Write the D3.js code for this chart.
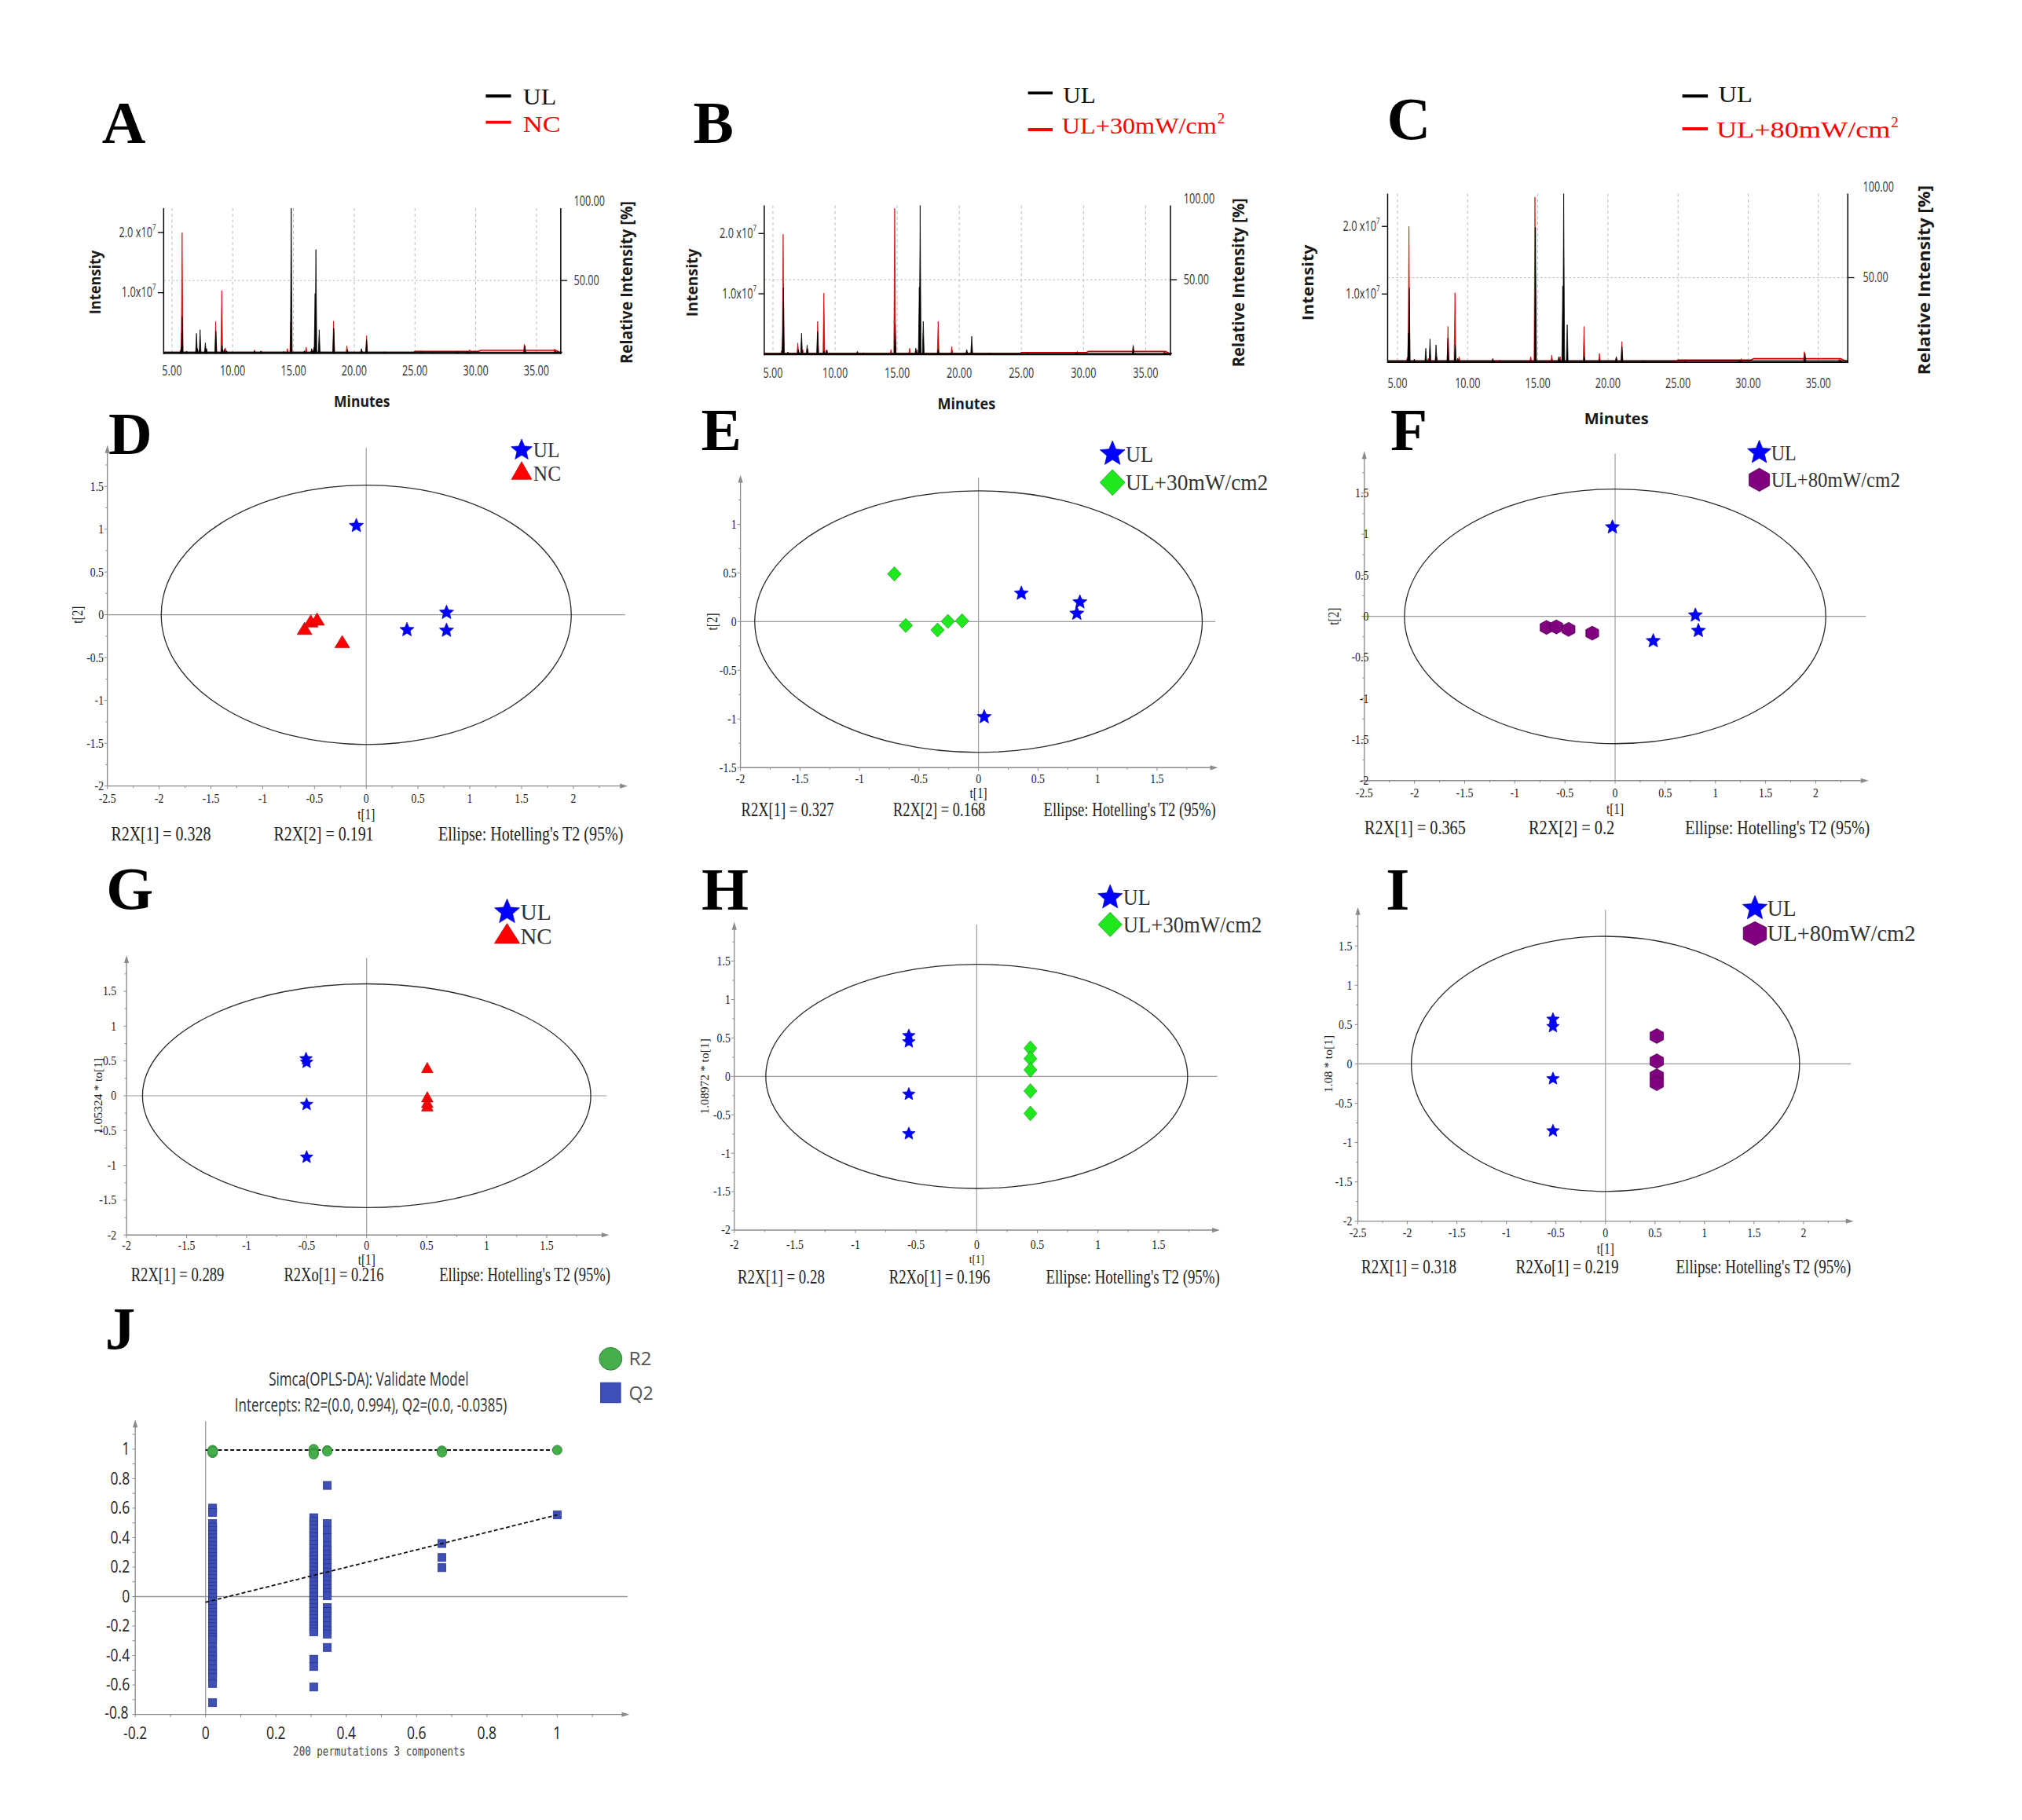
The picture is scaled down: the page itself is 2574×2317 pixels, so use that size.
<!DOCTYPE html>
<html><head><meta charset="utf-8">
<script src="https://cdn.jsdelivr.net/npm/d3@7"></script>
<style>html,body{margin:0;padding:0;background:#fff;} svg{display:block;}</style>
</head><body>
<svg id="fig" width="2574" height="2317" viewBox="0 0 1568 1411.5"></svg>
<script>
// ---------------- DATA ----------------
const chromMinutes = [5, 10, 15, 20, 25, 30, 35];
const chromMinuteLabels = ["5.00","10.00","15.00","20.00","25.00","30.00","35.00"];
const leftIntensityTicks = [1e7, 2e7];
const leftIntensityLabels = ["1.0x10", "2.0 x10"];
const rightRelTicks = [50, 100];
const rightRelLabels = ["50.00", "100.00"];

// chromatogram peaks: [retention time (min), relative intensity (%)]
const peaksA_UL = [[5.78,4],[5.84,25],[6.2,1.2],[7.02,13.5],[7.1,3],[7.32,16],[7.75,7],[7.85,3],[8.62,15],[9.12,5],[9.3,2.5],[9.5,1.5],[11.8,1.2],[12.4,1],[14.2,1],[14.82,100],[15.9,1.5],[16.5,3],[16.7,4],[16.78,41],[16.85,71.4],[17.12,16],[18.32,17],[19.45,2],[20.6,3],[21.02,9],[22.5,0.8],[28.5,1],[29.3,1],[34.05,5],[36.6,1.2]];
const peaksA_NC = [[5.7,2],[5.8,14],[5.84,83],[7.25,2],[7.8,3],[8.6,21.7],[9.1,43],[9.4,3.5],[11.8,2],[12.3,1.5],[14.5,3],[14.78,21.7],[16.05,4],[16.6,2],[18.3,22],[19.4,5],[20.6,2],[21.02,12],[25.5,1.5],[26.5,1.2],[29.5,2.2],[34.0,6],[36.5,2.8]];
const peaksB_UL = [[5.8,16],[5.84,44.5],[6.2,1.5],[7.05,3],[7.3,14],[7.75,6],[8.6,15],[9.1,2],[9.3,2.5],[11.8,1.5],[14.84,20],[16.5,4],[16.78,45],[16.85,100],[17.1,22],[18.3,3],[19.4,1],[20.6,3],[21.0,12],[22.5,0.8],[29.4,1],[34.0,5.5],[36.6,1]];
const peaksB_30 = [[5.7,2.5],[5.82,80.6],[7.0,7.5],[7.4,3],[7.8,3.5],[8.6,22],[9.1,41],[9.35,3],[11.8,2],[12.3,1],[14.5,3],[14.8,98],[16.0,4],[16.6,3],[18.3,22],[19.4,5],[20.6,2.5],[21.0,6],[25.5,1.2],[29.5,1.8],[34.0,6],[36.5,2]];
const peaksC_UL = [[5.78,17],[5.84,44],[6.2,1.5],[7.02,8],[7.32,13.5],[7.75,10],[8.6,14],[9.12,10],[9.3,2],[11.8,1.5],[14.84,80],[16.5,3],[16.78,45],[16.85,100],[17.1,22],[18.32,3],[19.4,1],[20.6,3],[21.0,9],[22.5,0.8],[29.4,1],[34.05,5],[36.6,1]];
const peaksC_80 = [[5.7,2.5],[5.82,80.5],[7.2,2],[7.8,3],[8.6,21],[9.1,41],[9.4,3],[11.8,2],[12.3,1],[14.5,3],[14.8,98],[16.0,4],[16.6,3],[18.3,21],[19.4,5],[20.6,2.5],[21.0,12],[25.5,1.2],[29.5,1.8],[34.0,6],[36.5,2]];
const baseBlack = [[4.3,0.4],[37.1,0.4]];
const baseRed = [[4.3,0.4],[24.9,0.4],[25.0,1.0],[30.2,1.0],[30.4,1.8],[36.6,1.8],[36.9,0.5],[37.1,0.4]];

// score plots: [t[1], t[2] or scaled to[1]]
const ulD = [[-0.096,1.04],[0.393,-0.176],[0.775,0.026],[0.775,-0.183]];
const ncD = [[-0.596,-0.183],[-0.536,-0.096],[-0.475,-0.074],[-0.232,-0.337]];
const ulE = [[0.36,0.29],[0.852,0.2],[0.826,0.083],[0.048,-0.979]];
const g30E = [[-0.707,0.49],[-0.611,-0.04],[-0.344,-0.086],[-0.257,0.003],[-0.138,0.008]];
const ulF = [[-0.027,1.086],[0.38,-0.30],[0.8,0.013],[0.83,-0.175]];
const p80F = [[-0.684,-0.135],[-0.586,-0.129],[-0.464,-0.158],[-0.228,-0.205]];
const ulG = [[-0.505,0.53],[-0.5,0.48],[-0.5,-0.125],[-0.5,-0.883]];
const ncG = [[0.505,0.38],[0.505,-0.04],[0.505,-0.12],[0.505,-0.17]];
const ulH = [[-0.56,0.53],[-0.56,0.45],[-0.56,-0.232],[-0.56,-0.746]];
const g30H = [[0.443,0.366],[0.443,0.232],[0.443,0.085],[0.443,-0.19],[0.443,-0.482]];
const ulI = [[-0.53,0.567],[-0.53,0.474],[-0.53,-0.189],[-0.53,-0.852]];
const p80I = [[0.518,0.354],[0.518,0.034],[0.518,-0.155],[0.518,-0.247]];

const ticksWide = [-2.5,-2,-1.5,-1,-0.5,0,0.5,1,1.5,2];
const ticksNarrow = [-2,-1.5,-1,-0.5,0,0.5,1,1.5];
const ticksYE = [-1.5,-1,-0.5,0,0.5,1];

// permutation test (J)
const r2Perm = [[0.02,0.994],[0.02,0.975],[0.02,0.985],[0.3075,1.0],[0.3075,0.975],[0.3075,0.965],[0.346,0.992],[0.346,0.985],[0.672,0.99],[0.672,0.978],[1.0,0.994]];
const q2Col002 = [0.60,0.57,0.495,0.472,0.448,0.421,0.398,0.372,0.345,0.322,0.297,0.271,0.248,0.22,0.196,0.171,0.146,0.122,0.095,0.071,0.047,0.02,-0.006,-0.03,-0.054,-0.081,-0.106,-0.13,-0.155,-0.181,-0.205,-0.23,-0.256,-0.276,-0.294,-0.34,-0.37,-0.402,-0.428,-0.461,-0.49,-0.522,-0.55,-0.59,-0.72];
const q2Col031 = [0.535,0.51,0.486,0.46,0.432,0.405,0.381,0.352,0.326,0.3,0.274,0.25,0.226,0.2,0.176,0.151,0.125,0.099,0.076,0.05,0.026,0.001,-0.025,-0.049,-0.076,-0.1,-0.126,-0.151,-0.175,-0.2,-0.221,-0.24,-0.425,-0.475,-0.614];
const q2Col035 = [0.754,0.495,0.45,0.40,0.345,0.316,0.286,0.255,0.226,0.196,0.166,0.14,0.11,0.081,0.051,0.026,0.005,-0.075,-0.101,-0.134,-0.166,-0.199,-0.23,-0.255,-0.345];
const q2Col067 = [0.36,0.265,0.196];
const q2Col100 = [0.554];
const q2Columns = [[0.02,q2Col002],[0.3075,q2Col031],[0.346,q2Col035],[0.672,q2Col067],[1.0,q2Col100]];
const r2Line = [[0,0.994],[1,0.994]];
const q2Line = [[0,-0.0385],[1,0.554]];
const permYTicks = [-0.8,-0.6,-0.4,-0.2,0,0.2,0.4,0.6,0.8,1];
const permXTicks = [-0.2,0,0.2,0.4,0.6,0.8,1];

// ---------------- DRAWING ----------------
const svg = d3.select("#fig");
svg.append("rect").attr("width",1568).attr("height",1411.5).attr("fill","#fff");
const SERIF = "'Liberation Serif','Times New Roman',serif";
const SANS = "'Open Sans','Noto Sans','DejaVu Sans',sans-serif";

function text(g, o) {
  const t = g.append("text")
    .attr("font-family", o.family || SERIF)
    .attr("font-size", o.size || 12)
    .attr("font-weight", o.weight || "normal")
    .attr("fill", o.fill || "#222")
    .attr("text-anchor", o.anchor || "start")
    .text(o.text);
  if (o.rot) t.attr("transform", `translate(${o.x},${o.y}) rotate(${o.rot})`).attr("x",0).attr("y",0);
  else t.attr("x", o.x).attr("y", o.y);
  if (o.dy) t.attr("dy", o.dy);
  if (o.width) t.attr("textLength", o.width).attr("lengthAdjust", "spacingAndGlyphs");
  else if (o.squeeze) {
    const L = t.node().getComputedTextLength();
    t.attr("textLength", L * o.squeeze).attr("lengthAdjust", "spacingAndGlyphs");
  }
  return t;
}

function letter(ch, x, y) {
  text(svg, {text: ch, x, y, size: 47, weight: "bold", fill: "#000"});
}

// ---- chromatograms ----
function chromPanel(c) {
  const g = svg.append("g");
  const x = d3.scaleLinear().domain([5, 35]).range([c.x5, c.x35]);
  const y = d3.scaleLinear().domain([0, 100]).range([c.base, c.top]);
  const yI = d3.scaleLinear().domain([0, c.fullScale]).range([c.base, c.top]);
  const xL = x(c.tMin), xR = x(c.tMax);
  g.selectAll(null).data(chromMinutes).join("line")
    .attr("x1", d => x(d)).attr("x2", d => x(d)).attr("y1", c.top).attr("y2", c.base)
    .attr("stroke", "#b8b8b8").attr("stroke-width", 0.6).attr("stroke-dasharray", "2.2,2.2");
  g.append("line").attr("x1", xL).attr("x2", xR).attr("y1", y(50)).attr("y2", y(50))
    .attr("stroke", "#b8b8b8").attr("stroke-width", 0.6).attr("stroke-dasharray", "1.6,1.6");
  const line = d3.line().x(d => x(d[0])).y(d => y(d[1]));
  function series(peaks, base, col) {
    g.selectAll(null).data(peaks).join("path")
      .attr("d", d => { const px = x(d[0]); return `M${px-0.7},${y(0)}L${px},${y(d[1])}L${px+0.7},${y(0)}Z`; })
      .attr("fill", col).attr("stroke", col).attr("stroke-width", 0.45);
    g.append("path").attr("d", line(base)).attr("fill", "none").attr("stroke", col).attr("stroke-width", 1.0);
  }
  series(c.red, baseRed, "#d20000");
  series(c.black, baseBlack, "#000");
  // axes
  g.append("line").attr("x1", xL).attr("x2", xL).attr("y1", c.top).attr("y2", c.base + 1).attr("stroke", "#000").attr("stroke-width", 0.9);
  g.append("line").attr("x1", xR).attr("x2", xR).attr("y1", c.top).attr("y2", c.base + 1).attr("stroke", "#000").attr("stroke-width", 0.9);
  g.append("line").attr("x1", xL).attr("x2", xR).attr("y1", c.base + 0.5).attr("y2", c.base + 0.5).attr("stroke", "#000").attr("stroke-width", 0.9);
  leftIntensityTicks.forEach((v, i) => {
    g.append("line").attr("x1", xL - 4.5).attr("x2", xL).attr("y1", yI(v)).attr("y2", yI(v)).attr("stroke", "#000").attr("stroke-width", 0.8);
    const tg = g.append("g").attr("transform", `translate(${xL - 6},${yI(v) + 3.5}) scale(0.74,1)`);
    const t = tg.append("text").attr("font-family", SANS).attr("font-size", 10.5).attr("fill", "#333").attr("text-anchor", "end").text(leftIntensityLabels[i]);
    t.append("tspan").attr("font-size", 6.5).attr("dy", -5.5).text("7");
  });
  g.append("line").attr("x1", xR).attr("x2", xR + 5).attr("y1", y(50)).attr("y2", y(50)).attr("stroke", "#000").attr("stroke-width", 0.8);
  rightRelTicks.forEach((v, i) => {
    text(g, {text: rightRelLabels[i], x: c.rLabX, y: y(v) + (v === 100 ? -1.5 : 3.5), size: 11, family: SANS, fill: "#333", squeeze: 0.7});
  });
  chromMinutes.forEach((v, i) => {
    text(g, {text: chromMinuteLabels[i], x: x(v), y: c.tickY, size: 11, family: SANS, fill: "#333", anchor: "middle", squeeze: 0.7});
  });
  text(g, {text: "Intensity", x: c.intensity[0], y: c.intensity[1], rot: -90, anchor: "middle", size: 12, weight: "bold", family: SANS, fill: "#1a1a1a", width: c.intensity[2], dy: "0.35em"});
  text(g, {text: "Relative Intensity [%]", x: c.rel[0], y: c.rel[1], rot: -90, anchor: "middle", size: 12.5, weight: "bold", family: SANS, fill: "#1a1a1a", width: c.rel[2], dy: "0.35em"});
  text(g, {text: "Minutes", x: c.minutes[0], y: c.minutes[1], anchor: "middle", size: 12, weight: "bold", family: SANS, fill: "#1a1a1a", width: c.minutes[2]});
  // legend
  const L = c.legend;
  g.append("line").attr("x1", L.lx1).attr("x2", L.lx2).attr("y1", L.y1).attr("y2", L.y1).attr("stroke", "#000").attr("stroke-width", 2.4);
  g.append("line").attr("x1", L.lx1).attr("x2", L.lx2).attr("y1", L.y2).attr("y2", L.y2).attr("stroke", "#ff0000").attr("stroke-width", 2.4);
  text(g, {text: "UL", x: L.tx, y: L.ty1, size: 18.5, fill: "#111", width: L.w1});
  text(g, {text: L.label2, x: L.tx2, y: L.ty2, size: 18.5, fill: "#ff0000", width: L.w2});
  if (L.sup) text(g, {text: "2", x: L.tx2 + L.w2 + 0.5, y: L.ty2 - 8, size: 11.5, fill: "#ff0000"});
  letter(c.letter[0], c.letter[1], c.letter[2]);
}

chromPanel({x5: 133.3, x35: 416.0, tMin: 4.32, tMax: 37.0, base: 273.7, top: 161.4, fullScale: 2.405e7,
  red: peaksA_NC, black: peaksA_UL, rLabX: 445, tickY: 291.2,
  intensity: [73.5, 219, 49.7], rel: [486, 219, 126], minutes: [280.7, 315.5, 43.5],
  legend: {lx1: 376.7, lx2: 396.3, y1: 74.5, y2: 94.8, tx: 405.6, ty1: 81.2, tx2: 405.6, ty2: 102.5, w1: 25.8, label2: "NC", w2: 29.2, sup: false},
  letter: ["A", 79, 111]});
chromPanel({x5: 599.4, x35: 888.4, tMin: 4.30, tMax: 37.0, base: 274.6, top: 159.3, fullScale: 2.466e7,
  red: peaksB_30, black: peaksB_UL, rLabX: 917.9, tickY: 293,
  intensity: [536.7, 219.2, 52.8], rel: [960.5, 219.2, 131], minutes: [749.5, 317.5, 45],
  legend: {lx1: 797.2, lx2: 816.3, y1: 72.1, y2: 100.5, tx: 824.3, ty1: 79.6, tx2: 823.5, ty2: 103.5, w1: 25.3, label2: "UL+30mW/cm", w2: 120, sup: true},
  letter: ["B", 537.6, 110.6]});
chromPanel({x5: 1083.7, x35: 1410.1, tMin: 4.30, tMax: 37.1, base: 280.5, top: 150.2, fullScale: 2.484e7,
  red: peaksC_80, black: peaksC_UL, rLabX: 1444.7, tickY: 301.2,
  intensity: [1014.5, 219.2, 59], rel: [1492.6, 217.2, 147], minutes: [1253.5, 328.7, 50],
  legend: {lx1: 1304.6, lx2: 1324.4, y1: 74.5, y2: 99.9, tx: 1332.6, ty1: 79.2, tx2: 1331, ty2: 106.6, w1: 26.4, label2: "UL+80mW/cm", w2: 135, sup: true},
  letter: ["C", 1075.5, 107.6]});

// ---- marker shapes ----
function starPath(R) {
  const p = d3.path(), r = R * 0.45;
  for (let i = 0; i < 10; i++) {
    const a = -Math.PI / 2 + i * Math.PI / 5, rr = i % 2 ? r : R;
    const px = rr * Math.cos(a), py = rr * Math.sin(a);
    if (i) p.lineTo(px, py); else p.moveTo(px, py);
  }
  p.closePath(); return p.toString();
}
function triPath(w, h) {
  const p = d3.path();
  p.moveTo(0, -2 * h / 3); p.lineTo(w / 2, h / 3); p.lineTo(-w / 2, h / 3); p.closePath(); return p.toString();
}
function diaPath(w, h) {
  const p = d3.path();
  p.moveTo(0, -h / 2); p.lineTo(w / 2, 0); p.lineTo(0, h / 2); p.lineTo(-w / 2, 0); p.closePath(); return p.toString();
}
function hexPath(w, h) {
  const p = d3.path();
  p.moveTo(0, -h / 2); p.lineTo(w / 2, -h / 4); p.lineTo(w / 2, h / 4); p.lineTo(0, h / 2); p.lineTo(-w / 2, h / 4); p.lineTo(-w / 2, -h / 4); p.closePath(); return p.toString();
}
const STYLE = {
  star: {fill: "#0000ff", stroke: "#0000b0"},
  tri: {fill: "#ff0000", stroke: "#b00000"},
  dia: {fill: "#1fe81f", stroke: "#129012"},
  hex: {fill: "#800080", stroke: "#3d003d"}
};
function shape(kind, s) {
  if (kind === "star") return starPath(s[0]);
  if (kind === "tri") return triPath(s[0], s[1]);
  if (kind === "dia") return diaPath(s[0], s[1]);
  return hexPath(s[0], s[1]);
}

// ---- score plots ----
function scorePanel(c) {
  const g = svg.append("g");
  const x = d3.scaleLinear().domain([0, 1]).range([c.x0, c.x0 + c.xu]);
  const y = d3.scaleLinear().domain([0, 1]).range([c.y0, c.y0 - c.yu]);
  const ax = "#8a8a8a";
  const X0 = x(c.xMin), Y0 = y(c.yMin);
  // crosshair
  g.append("line").attr("x1", x(0)).attr("x2", x(0)).attr("y1", Y0).attr("y2", y(c.yEnd)).attr("stroke", "#999").attr("stroke-width", 0.7);
  g.append("line").attr("x1", X0).attr("x2", x(c.xEnd)).attr("y1", y(0)).attr("y2", y(0)).attr("stroke", "#999").attr("stroke-width", 0.7);
  // axes
  g.append("line").attr("x1", X0).attr("x2", X0).attr("y1", Y0).attr("y2", y(c.yEnd) + 3).attr("stroke", ax).attr("stroke-width", 0.8);
  g.append("line").attr("x1", X0).attr("x2", x(c.xEnd) - 3).attr("y1", Y0).attr("y2", Y0).attr("stroke", ax).attr("stroke-width", 0.8);
  g.append("path").attr("d", `M${X0},${y(c.yEnd) - 2}L${X0 - 1.9},${y(c.yEnd) + 4}L${X0 + 1.9},${y(c.yEnd) + 4}Z`).attr("fill", ax);
  g.append("path").attr("d", `M${x(c.xEnd) + 2},${Y0}L${x(c.xEnd) - 4},${Y0 - 1.9}L${x(c.xEnd) - 4},${Y0 + 1.9}Z`).attr("fill", ax);
  // ticks (major 0.5, minor 0.25)
  const xt = d3.range(c.xMin, c.xEnd - 0.05, 0.25);
  const yt = d3.range(c.yMin, c.yEnd - 0.05, 0.25);
  g.selectAll(null).data(xt).join("line")
    .attr("x1", d => x(d)).attr("x2", d => x(d)).attr("y1", Y0).attr("y2", d => Y0 + (Math.abs(d * 2 - Math.round(d * 2)) < 1e-6 ? 2.4 : 1.5))
    .attr("stroke", ax).attr("stroke-width", 0.6);
  g.selectAll(null).data(yt).join("line")
    .attr("y1", d => y(d)).attr("y2", d => y(d)).attr("x1", X0).attr("x2", d => X0 - (Math.abs(d * 2 - Math.round(d * 2)) < 1e-6 ? 2.4 : 1.5))
    .attr("stroke", ax).attr("stroke-width", 0.6);
  c.xTicks.forEach(v => text(g, {text: String(v), x: x(v), y: c.xlabY + 3.3, size: 10, anchor: "middle", fill: "#222", squeeze: 0.84}));
  c.yTicks.forEach(v => text(g, {text: String(v), x: c.ylabX, y: y(v) + 3.3, size: 10, anchor: "end", fill: "#222", squeeze: 0.84}));
  text(g, {text: "t[1]", x: x(0), y: c.t1Y + 3.6, size: c.t1Size || 11, anchor: "middle", fill: "#222", squeeze: 0.85});
  text(g, {text: c.ylab, x: c.t2X, y: y(0), rot: -90, size: c.ylab.length > 5 ? 9.5 : 11, anchor: "middle", fill: "#222", dy: "0.33em", squeeze: c.ylab.length > 5 ? 1 : 0.85});
  // ellipse
  g.append("ellipse").attr("cx", x(0)).attr("cy", y(0)).attr("rx", x(c.ell[0]) - x(0)).attr("ry", y(0) - y(c.ell[1]))
    .attr("fill", "none").attr("stroke", "#2a2a2a").attr("stroke-width", 0.8);
  // points
  c.groups.forEach(gr => {
    g.selectAll(null).data(gr.data).join("path")
      .attr("transform", d => `translate(${x(d[0])},${y(d[1])})`)
      .attr("d", shape(gr.kind, gr.size))
      .attr("fill", STYLE[gr.kind].fill).attr("stroke", STYLE[gr.kind].stroke).attr("stroke-width", 0.4);
  });
  // stats row
  c.stats.forEach(s => text(g, {text: s[0], x: s[1], y: c.statsY + 5, size: 15, fill: "#222", width: s[2] - s[1]}));
  // legend
  c.legend.forEach(l => {
    g.append("path").attr("transform", `translate(${l.x},${l.y})`).attr("d", shape(l.kind, l.size))
      .attr("fill", STYLE[l.kind].fill).attr("stroke", STYLE[l.kind].stroke).attr("stroke-width", 0.4);
    text(g, {text: l.label, x: l.tx, y: l.y + c.legSize * 0.34, size: c.legSize, fill: "#333", width: l.w});
  });
  letter(c.letter[0], c.letter[1], c.letter[2]);
}

const starS = [5.8], starSm = [5.2];
scorePanel({x0: 284, xu: 80.3, y0: 476.8, yu: 66.4, xMin: -2.5, yMin: -2, xEnd: 2.5, yEnd: 1.95,
  xTicks: ticksWide, yTicks: ticksNarrow, ell: [1.98, 1.515], xlabY: 619.4, ylabX: 80.4, t1Y: 632.1, t2X: 60.3, ylab: "t[2]",
  groups: [{kind: "tri", size: [11.5, 9.5], data: ncD}, {kind: "star", size: starS, data: ulD}],
  statsY: 647, stats: [["R2X[1] = 0.328", 86.1, 163.5], ["R2X[2] = 0.191", 212.3, 289.7], ["Ellipse: Hotelling's T2 (95%)", 339.9, 483.3]],
  legSize: 16, legend: [{kind: "star", size: [8.6], x: 404.5, y: 349.1, label: "UL", tx: 413.5, w: 20.5}, {kind: "tri", size: [15.8, 13.8], x: 404.5, y: 367.2, label: "NC", tx: 413.5, w: 21.5}],
  letter: ["D", 84, 352]});
scorePanel({x0: 758.8, xu: 92.3, y0: 482.1, yu: 75.5, xMin: -2, yMin: -1.5, xEnd: 1.99, yEnd: 1.48,
  xTicks: ticksNarrow, yTicks: ticksYE, ell: [1.88, 1.343], xlabY: 603.9, ylabX: 571.2, t1Y: 615.1, t2X: 552.5, ylab: "t[2]",
  groups: [{kind: "dia", size: [10.5, 11], data: g30E}, {kind: "star", size: starS, data: ulE}],
  statsY: 628.2, stats: [["R2X[1] = 0.327", 574.8, 646.6], ["R2X[2] = 0.168", 692.6, 764.1], ["Ellipse: Hotelling's T2 (95%)", 809.3, 942.8]],
  legSize: 18, legend: [{kind: "star", size: [10.2], x: 862.7, y: 352, label: "UL", tx: 873, w: 21.3}, {kind: "dia", size: [19.5, 20], x: 862.7, y: 374.2, label: "UL+30mW/cm2", tx: 873, w: 110.4}],
  letter: ["E", 543.6, 349]});
scorePanel({x0: 1252.5, xu: 77.8, y0: 478, yu: 63.7, xMin: -2.5, yMin: -2, xEnd: 2.5, yEnd: 1.98,
  xTicks: ticksWide, yTicks: ticksNarrow, ell: [2.1, 1.55], xlabY: 614.8, ylabX: 1061.4, t1Y: 627.5, t2X: 1034.5, ylab: "t[2]",
  groups: [{kind: "hex", size: [10, 11], data: p80F}, {kind: "star", size: starS, data: ulF}],
  statsY: 642.2, stats: [["R2X[1] = 0.365", 1058.2, 1136.6], ["R2X[2] = 0.2", 1185.4, 1252], ["Ellipse: Hotelling's T2 (95%)", 1306.8, 1450]],
  legSize: 17, legend: [{kind: "star", size: [9.6], x: 1364.3, y: 351, label: "UL", tx: 1373.5, w: 19.5}, {kind: "hex", size: [16, 18], x: 1364.3, y: 372.1, label: "UL+80mW/cm2", tx: 1373.5, w: 100}],
  letter: ["F", 1078.3, 349]});
scorePanel({x0: 284.3, xu: 93.1, y0: 849.8, yu: 54.0, xMin: -2, yMin: -2, xEnd: 2.0, yEnd: 1.98,
  xTicks: ticksNarrow, yTicks: ticksNarrow, ell: [1.867, 1.607], xlabY: 965.8, ylabX: 90.2, t1Y: 977, t2X: 76, ylab: "1.05324 * to[1]",
  groups: [{kind: "tri", size: [9, 8], data: ncG}, {kind: "star", size: starSm, data: ulG}],
  statsY: 988.9, stats: [["R2X[1] = 0.289", 101.5, 173.8], ["R2Xo[1] = 0.216", 220.2, 297.6], ["Ellipse: Hotelling's T2 (95%)", 340.6, 473.3]],
  legSize: 17.5, legend: [{kind: "star", size: [10.2], x: 393.2, y: 707.3, label: "UL", tx: 403.5, w: 23.9}, {kind: "tri", size: [19.7, 15.5], x: 393.2, y: 726.5, label: "NC", tx: 403.5, w: 24.5}],
  letter: ["G", 82.3, 705]});
scorePanel({x0: 757.4, xu: 94.0, y0: 834.8, yu: 59.6, xMin: -2, yMin: -2, xEnd: 1.985, yEnd: 1.975,
  xTicks: ticksNarrow, yTicks: ticksNarrow, ell: [1.74, 1.458], xlabY: 965.3, ylabX: 566.4, t1Y: 975.8, t1Size: 9.5, t2X: 546.2, ylab: "1.08972 * to[1]",
  groups: [{kind: "dia", size: [10, 11.5], data: g30H}, {kind: "star", size: starSm, data: ulH}],
  statsY: 990.5, stats: [["R2X[1] = 0.28", 572, 639.6], ["R2Xo[1] = 0.196", 689.4, 767.7], ["Ellipse: Hotelling's T2 (95%)", 811.1, 945.9]],
  legSize: 17.5, legend: [{kind: "star", size: [10], x: 860.9, y: 696.1, label: "UL", tx: 871, w: 21.3}, {kind: "dia", size: [18.5, 19], x: 860.9, y: 717, label: "UL+30mW/cm2", tx: 871, w: 107.5}],
  letter: ["H", 544, 705.6]});
scorePanel({x0: 1245, xu: 76.8, y0: 825.1, yu: 61.0, xMin: -2.5, yMin: -2, xEnd: 2.48, yEnd: 1.96,
  xTicks: ticksWide, yTicks: ticksNarrow, ell: [1.96, 1.622], xlabY: 956.1, ylabX: 1048.6, t1Y: 968.5, t2X: 1029.9, ylab: "1.08 * to[1]",
  groups: [{kind: "hex", size: [10.5, 11.5], data: p80I}, {kind: "star", size: starSm, data: ulI}],
  statsY: 982.5, stats: [["R2X[1] = 0.318", 1055.7, 1129.4], ["R2Xo[1] = 0.219", 1175.4, 1255.3], ["Ellipse: Hotelling's T2 (95%)", 1299.7, 1435.5]],
  legSize: 17.5, legend: [{kind: "star", size: [10], x: 1360.9, y: 704.5, label: "UL", tx: 1370.5, w: 22.4}, {kind: "hex", size: [18, 18.5], x: 1360.9, y: 724, label: "UL+80mW/cm2", tx: 1370.5, w: 115}],
  letter: ["I", 1074.8, 705.5]});

// ---- permutation plot J ----
(function permPanel() {
  const g = svg.append("g");
  const x = d3.scaleLinear().domain([0, 1]).range([159.4, 159.4 + 272.7]);
  const y = d3.scaleLinear().domain([0, 1]).range([1238.2, 1238.2 - 114.3]);
  const ax = "#8a8a8a";
  const X0 = x(-0.2), Y0 = y(-0.8);
  g.append("line").attr("x1", x(0)).attr("x2", x(0)).attr("y1", Y0).attr("y2", y(1.19)).attr("stroke", "#9a9a9a").attr("stroke-width", 0.8);
  g.append("line").attr("x1", X0).attr("x2", x(1.2)).attr("y1", y(0)).attr("y2", y(0)).attr("stroke", "#9a9a9a").attr("stroke-width", 0.8);
  g.append("line").attr("x1", X0).attr("x2", X0).attr("y1", Y0).attr("y2", y(1.183) + 3).attr("stroke", ax).attr("stroke-width", 0.8);
  g.append("line").attr("x1", X0).attr("x2", x(1.198) - 3).attr("y1", Y0).attr("y2", Y0).attr("stroke", ax).attr("stroke-width", 0.8);
  g.append("path").attr("d", `M${X0},${y(1.183) - 2}L${X0 - 1.9},${y(1.183) + 4}L${X0 + 1.9},${y(1.183) + 4}Z`).attr("fill", ax);
  g.append("path").attr("d", `M${x(1.198) + 2},${Y0}L${x(1.198) - 4},${Y0 - 1.9}L${x(1.198) - 4},${Y0 + 1.9}Z`).attr("fill", ax);
  const yt = d3.range(-0.8, 1.15, 0.1), xt = d3.range(-0.2, 1.15, 0.1);
  g.selectAll(null).data(yt).join("line").attr("x1", X0).attr("x2", X0 - 2.2).attr("y1", d => y(d)).attr("y2", d => y(d)).attr("stroke", ax).attr("stroke-width", 0.6);
  g.selectAll(null).data(xt).join("line").attr("y1", Y0).attr("y2", Y0 + 2.2).attr("x1", d => x(d)).attr("x2", d => x(d)).attr("stroke", ax).attr("stroke-width", 0.6);
  permYTicks.forEach(v => text(g, {text: String(v), x: v === -0.8 ? 99.6 : 100.6, y: y(v) + (v === -0.8 ? 3 : 4.5), size: 13, family: SANS, anchor: "end", fill: "#222", squeeze: 0.82}));
  permXTicks.forEach(v => text(g, {text: String(v), x: x(v), y: 1348.5, size: 13, family: SANS, anchor: "middle", fill: "#222", squeeze: 0.82}));
  // Q2 squares
  q2Columns.forEach(col => {
    g.selectAll(null).data(col[1]).join("rect")
      .attr("x", x(col[0]) - 3.1).attr("y", d => y(d) - 3.1).attr("width", 6.2).attr("height", 6.2)
      .attr("fill", "#3f4fb8").attr("stroke", "#27338c").attr("stroke-width", 0.45);
  });
  const ln = d3.line().x(d => x(d[0])).y(d => y(d[1]));
  g.append("path").attr("d", ln(q2Line)).attr("fill", "none").attr("stroke", "#111").attr("stroke-width", 1.1).attr("stroke-dasharray", "3,1.8");
  g.append("path").attr("d", ln(r2Line)).attr("fill", "none").attr("stroke", "#111").attr("stroke-width", 1.1).attr("stroke-dasharray", "3,1.8");
  g.selectAll(null).data(r2Perm).join("circle")
    .attr("cx", d => x(d[0])).attr("cy", d => y(d[1])).attr("r", 3.7)
    .attr("fill", "#45ad4b").attr("stroke", "#2f7f34").attr("stroke-width", 0.5);
  text(g, {text: "Simca(OPLS-DA): Validate Model", x: 285.9, y: 1074.5, size: 14, family: SANS, anchor: "middle", fill: "#333", width: 155});
  text(g, {text: "Intercepts: R2=(0.0, 0.994), Q2=(0.0, -0.0385)", x: 287.5, y: 1095, size: 14, family: SANS, anchor: "middle", fill: "#333", width: 211});
  text(g, {text: "200 permutations 3 components", x: 294, y: 1361.5, size: 10, family: "'DejaVu Sans Mono',monospace", anchor: "middle", fill: "#444", width: 133.5});
  // legend
  g.append("circle").attr("cx", 473.5).attr("cy", 1053.8).attr("r", 8.8).attr("fill", "#45ad4b").attr("stroke", "#2f7f34").attr("stroke-width", 0.6);
  g.append("rect").attr("x", 473.5 - 7.8).attr("y", 1080.1 - 7.8).attr("width", 15.6).attr("height", 15.6).attr("fill", "#3f4fb8").attr("stroke", "#27338c").attr("stroke-width", 0.5);
  text(g, {text: "R2", x: 487.6, y: 1059, size: 14.5, family: SANS, fill: "#555", width: 17.7});
  text(g, {text: "Q2", x: 487.6, y: 1085.3, size: 14.5, family: SANS, fill: "#555", width: 19});
  letter("J", 81.4, 1046);
})();
</script>
</body></html>
